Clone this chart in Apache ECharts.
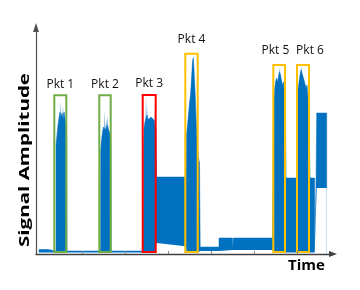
<!DOCTYPE html>
<html><head><meta charset="utf-8">
<script src="https://cdn.jsdelivr.net/npm/echarts@6/dist/echarts.min.js"></script>
<style>html,body{margin:0;padding:0;background:#fff}#c{width:360px;height:290px}</style>
</head><body><div id="c"></div>
<script>
// Time (arbitrary units) and envelope of the received signal amplitude
const signalTime = [3,3,12,12,20,
  20,21,22,23,24,25,26,27,28,29,30,30.7,31,
  64.5,64.7,65.5,66.5,67.5,68.5,69.5,70.5,71.5,72.5,73.5,74.5,75,75.2,
  107,107.3,108,109,110,111,112,113,114,115,116,117,118,119,120,120.5,
  120.5,147,150,
  150.5,152,153.5,154.5,155.5,156.5,157.3,158,159,160,161,162,163.5,164,
  164.2,183,183,196.5,196.5,197.5,197.5,236.5,
  237.5,238.5,239.5,240.5,241.5,242.5,243.5,244.5,245.5,246.5,247.5,248.5,249.5,250,
  250,260.5,
  261,262,263,264,265,266,267,268,269,270,271,272,273,274,
  274,278.7,278.7,280,280.7,280.7,290.7,290.7];
const signalUpper = [1.5,4.5,4.5,3,3,
  109,119,129,136,142,136,141,134,142,136,126,114,3,
  3,104,114,122,127,129,124,126,129,124,126,119,104,3,
  3,94,126,132,136,139,134,136,132,137,139,136,134,129,124,124,
  77,77,77,
  119,134,149,159,174,192,196,184,164,139,114,99,91,91,
  7,7,16,16,5,5,16,16,
  144,164,172,176,172,178,182,179,174,169,172,159,139,139,
  76,76,
  144,164,172,179,184,186,182,174,176,166,169,156,139,139,
  76,76,1.5,66,66,141,141,66];
const signalLower = [1.5,1.5,1.5,1.5,1.5,
  1.5,1.5,1.5,1.5,1.5,1.5,1.5,1.5,1.5,1.5,1.5,1.5,1.5,
  1.5,1.5,1.5,1.5,1.5,1.5,1.5,1.5,1.5,1.5,1.5,1.5,1.5,1.5,
  1.5,1.5,1.5,1.5,1.5,1.5,1.5,1.5,1.5,1.5,1.5,1.5,1.5,1.5,1.5,1.5,
  11,8,8,
  1.5,1.5,1.5,1.5,1.5,1.5,1.5,1.5,1.5,1.5,1.5,1.5,1.5,1.5,
  3,3,4,4,3,3,4,4,
  1.5,1.5,1.5,1.5,1.5,1.5,1.5,1.5,1.5,1.5,1.5,1.5,1.5,1.5,
  1.5,1.5,
  1.5,1.5,1.5,1.5,1.5,1.5,1.5,1.5,1.5,1.5,1.5,1.5,1.5,1.5,
  1.5,1.5,1.5,1.5,1.5,66,66,66];
// light peak spikes rising above the packet bodies
const spikeTime = [21,23.8,24.6,25.2,26.5,27,27.6,29,
  66,68,68.6,69.2,71,71.6,72.2,74,
  108,109.5,110,110.5,111,111.6,118.5,119.1,119.6,120,
  151,152.5,153.2,154,156.5,157.1,157.7,160,
  239,243,243.7,244.4,247,
  263,264.5,265.4,266.2,270];
const spikeAmp = [0,138,153,138,141,149,138,0,
  0,127,145,127,129,137,124,0,
  0,136,160,136,150,136,134,157,129,0,
  0,140,157,150,192,199,190,0,
  0,182,186,180,0,
  0,180,188,182,0];
// packets
const packetLabels = ['Pkt 1','Pkt 2','Pkt 3','Pkt 4','Pkt 5','Pkt 6'];
const packetStart = [18.3,63.3,106.7,149.3,237.3,261];
const packetEnd = [30.3,74.7,119.7,161.7,249,273];
const packetTop = [158.7,158.7,159,200.3,189,189];
const packetBottom = 2;
const timeTicks = [46,89,132,175,218,261];
const yTitle = 'Signal Amplitude';
const xTitle = 'Time';

const packetColors = ['#70AD47','#70AD47','#FF0000','#FFC000','#FFC000','#FFC000'];
const labelOffsets = [[0,0],[0,0],[0,0],[0,-3.5],[-3.7,-3.5],[7,-3.5]];

const ctx = document.createElement('canvas').getContext('2d');
ctx.font = 'bold 15px "Open Sans"';
const yTitleScale = 174 / ctx.measureText(yTitle).width;

const chart = echarts.init(document.getElementById('c'), null, {renderer: 'canvas'});
chart.setOption({
  animation: false,
  backgroundColor: '#fff',
  grid: {left: 36, right: 27, top: 27.5, bottom: 36},
  xAxis: {
    type: 'value', min: 0, max: 297, z: 20,
    axisLine: {show: true, symbol: ['none','triangle'], symbolSize: [6,8], lineStyle: {color: '#404040', width: 1.3}},
    axisTick: {show: true, customValues: timeTicks, inside: true, length: 3, lineStyle: {color: '#8a8a8a'}},
    axisLabel: {show: false}, splitLine: {show: false}
  },
  yAxis: {
    type: 'value', min: 0, max: 226.5, z: 20,
    axisLine: {show: true, symbol: ['none','triangle'], symbolSize: [6,9], lineStyle: {color: '#505050', width: 1.2}},
    axisTick: {show: false}, axisLabel: {show: false}, splitLine: {show: false}
  },
  series: [
    {
      type: 'line', z: 2, silent: true, showSymbol: false, symbol: 'none',
      data: spikeTime.map((t, i) => [t, spikeAmp[i]]),
      lineStyle: {width: 0}, areaStyle: {color: '#8DBBE4', opacity: 1}
    },
    {
      type: 'line', z: 3, silent: true, showSymbol: false, symbol: 'none',
      data: signalTime.map((t, i) => [t, signalUpper[i]]),
      lineStyle: {width: 0.5, color: '#0070C0'}, areaStyle: {color: '#0070C0', opacity: 1},
      markArea: {
        z: 10, silent: true,
        data: packetLabels.map((name, i) => [
          {name: name, xAxis: packetStart[i], yAxis: packetBottom,
           itemStyle: {color: 'rgba(0,0,0,0)', borderColor: packetColors[i], borderWidth: 2},
           label: {show: true, position: 'top', distance: 4, offset: labelOffsets[i],
                   color: '#111', fontSize: 12, fontFamily: 'Open Sans', lineHeight: 12}},
          {xAxis: packetEnd[i], yAxis: packetTop[i]}
        ])
      }
    },
    {
      type: 'line', z: 4, silent: true, showSymbol: false, symbol: 'none',
      data: signalTime.map((t, i) => [t, signalLower[i]]),
      lineStyle: {width: 0}, areaStyle: {color: '#ffffff', opacity: 1}
    }
  ],
  graphic: [
    {type: 'text', x: 25, y: 160, rotation: Math.PI / 2, scaleX: yTitleScale,
     style: {text: yTitle, font: 'bold 15px "Open Sans"', fill: '#000',
             align: 'center', verticalAlign: 'middle', textAlign: 'center', textVerticalAlign: 'middle'}},
    {type: 'text', x: 306.5, y: 265.5,
     style: {text: xTitle, font: 'bold 15px "Open Sans"', fill: '#000',
             align: 'center', verticalAlign: 'middle', textAlign: 'center', textVerticalAlign: 'middle'}}
  ]
});
</script>
</body></html>
